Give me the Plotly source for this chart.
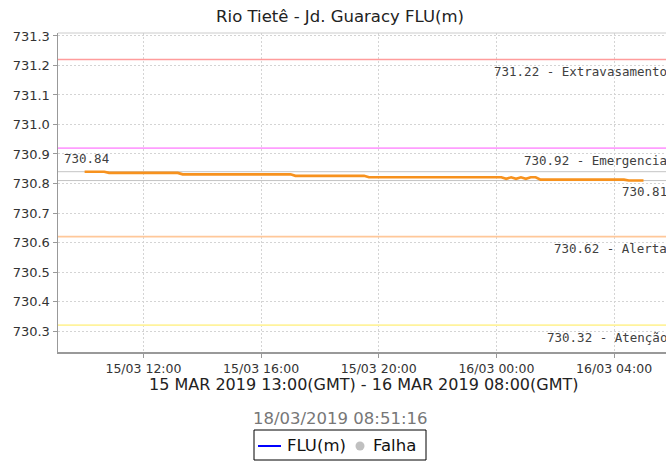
import plotly.graph_objects as go

# ---------------- data ----------------
times = [
    "2019-03-15 10:00", "2019-03-15 10:40", "2019-03-15 10:50", "2019-03-15 13:10",
    "2019-03-15 13:20", "2019-03-15 17:00", "2019-03-15 17:10", "2019-03-15 19:30",
    "2019-03-15 19:40", "2019-03-16 00:10", "2019-03-16 00:20", "2019-03-16 00:30",
    "2019-03-16 00:40", "2019-03-16 00:50", "2019-03-16 01:00", "2019-03-16 01:10",
    "2019-03-16 01:20", "2019-03-16 01:30", "2019-03-16 04:20", "2019-03-16 04:30",
    "2019-03-16 05:00",
]
levels = [
    730.840, 730.840, 730.836, 730.836,
    730.831, 730.831, 730.826, 730.826,
    730.821, 730.821, 730.816, 730.821,
    730.816, 730.821, 730.816, 730.821,
    730.821, 730.813, 730.813, 730.810,
    730.810,
]
threshold_values = [731.22, 730.92, 730.62, 730.32]
threshold_names = ["Extravasamento", "Emergencia", "Alerta", "Atenção"]
threshold_colors = ["#ff9c9c", "#ff9eff", "#ffc89a", "#fff39c"]
y_ticks = [730.3, 730.4, 730.5, 730.6, 730.7, 730.8, 730.9, 731.0, 731.1, 731.2, 731.3]
x_range = ["2019-03-15 09:05:42", "2019-03-16 05:45:54"]
y_range = [730.229, 731.31]
title_text = "Rio Tietê - Jd. Guaracy FLU(m)"
period_text = "15 MAR 2019 13:00(GMT) - 16 MAR 2019 08:00(GMT)"
stamp_text = "18/03/2019 08:51:16"
legend_names = ["FLU(m)", "Falha"]

# ---------------- layout geometry ----------------
W, H = 666, 461
L, R, T, B = 58, 0, 33, 461 - 352
PW, PH = W - L - R, H - T - B


def px_x(px):  # page pixel -> paper x
    return (px - L) / PW


def px_y(py):  # page pixel -> paper y
    return (H - B - py) / PH


FONT = "DejaVu Sans"
MONO = "DejaVu Sans Mono"
LBL = dict(family=MONO, size=12.5, color="#404040")

fig = go.Figure()
fig.add_trace(go.Scatter(
    x=times, y=levels, mode="lines",
    line=dict(color="#f7921e", width=2.6),
    name=legend_names[0], showlegend=False, hoverinfo="skip",
))

# threshold lines + labels
for v, n, c in zip(threshold_values, threshold_names, threshold_colors):
    fig.add_hline(y=v, line=dict(color=c, width=1.6), layer="above")
    fig.add_annotation(
        x=px_x(669), xref="paper", y=v, yref="y", yshift=-12,
        xanchor="right", yanchor="middle", showarrow=False,
        text=f"{v:.2f} - {n}", font=LBL,
    )

# max / min lines
vmax, vmin = max(levels), min(levels)
for v in (vmax, vmin):
    fig.add_hline(y=v, line=dict(color="#c4c4c4", width=1), layer="below")
fig.add_annotation(
    x=px_x(62), xref="paper", y=vmax, yref="y", yshift=13,
    xanchor="left", yanchor="middle", showarrow=False,
    text=f"{vmax:.2f}", font=LBL,
)
fig.add_annotation(
    x=px_x(669), xref="paper", y=vmin, yref="y", yshift=-11,
    xanchor="right", yanchor="middle", showarrow=False,
    text=f"{vmin:.2f}", font=LBL,
)

# top border
fig.add_shape(type="line", xref="paper", yref="paper", x0=0, x1=1, y0=1, y1=1,
              line=dict(color="#cccccc", width=1))

# x-axis caption & timestamp
fig.add_annotation(x=px_x(364), xref="paper", y=px_y(384), yref="paper",
                   xanchor="center", yanchor="middle", showarrow=False,
                   text=period_text, font=dict(family=FONT, size=16, color="#222222"))
fig.add_annotation(x=px_x(340), xref="paper", y=px_y(418), yref="paper",
                   xanchor="center", yanchor="middle", showarrow=False,
                   text=stamp_text, font=dict(family=FONT, size=16.5, color="#777777"))

# legend (drawn manually)
fig.add_shape(type="rect", xref="paper", yref="paper",
              x0=px_x(254), x1=px_x(426), y0=px_y(460), y1=px_y(430),
              line=dict(color="#000000", width=1), fillcolor="white")
fig.add_shape(type="line", xref="paper", yref="paper",
              x0=px_x(258), x1=px_x(281), y0=px_y(446), y1=px_y(446),
              line=dict(color="#0000ff", width=2))
fig.add_shape(type="circle", xref="paper", yref="paper",
              x0=px_x(355.5), x1=px_x(364.5), y0=px_y(450.5), y1=px_y(441.5),
              line=dict(color="#c0c0c0", width=0), fillcolor="#c0c0c0")
fig.add_annotation(x=px_x(285), xref="paper", y=px_y(445), yref="paper",
                   xanchor="left", yanchor="middle", showarrow=False,
                   text=legend_names[0], font=dict(family=FONT, size=16.5, color="#111111"))
fig.add_annotation(x=px_x(371), xref="paper", y=px_y(445), yref="paper",
                   xanchor="left", yanchor="middle", showarrow=False,
                   text=legend_names[1], font=dict(family=FONT, size=16.5, color="#111111"))

fig.update_layout(
    width=W, height=H,
    margin=dict(l=L, r=R, t=T, b=B, pad=0),
    paper_bgcolor="white", plot_bgcolor="white",
    showlegend=False,
    title=dict(text=title_text, x=340 / W, xref="container", xanchor="center",
               y=1 - 16 / H, yref="container", yanchor="middle",
               font=dict(family=FONT, size=16.5, color="#222222")),
    xaxis=dict(
        type="date", range=x_range, tick0="2019-03-15 00:00", dtick=4 * 3600 * 1000,
        tickformat="%d/%m %H:%M", showgrid=True, gridcolor="#d4d4d4", griddash="2px,2px",
        gridwidth=1, showline=True, linecolor="#999999", linewidth=1.5,
        ticks="outside", ticklen=4, tickcolor="#999999",
        tickfont=dict(family=FONT, size=12.5, color="#333333"), zeroline=False,
    ),
    yaxis=dict(
        range=y_range, tickvals=y_ticks, tickformat=".1f",
        showgrid=True, gridcolor="#d4d4d4", griddash="2px,2px", gridwidth=1,
        showline=True, linecolor="#999999", linewidth=1.5,
        ticks="outside", ticklen=4, tickcolor="#999999",
        tickfont=dict(family=FONT, size=13, color="#333333"), zeroline=False,
    ),
)

# remove the page's default body margin so the figure sits at the window origin
fig.write_html("out.html",
               config={"displayModeBar": False, "staticPlot": True},
               post_script="document.body.style.margin='0';"
                           "document.documentElement.style.overflow='hidden';")
